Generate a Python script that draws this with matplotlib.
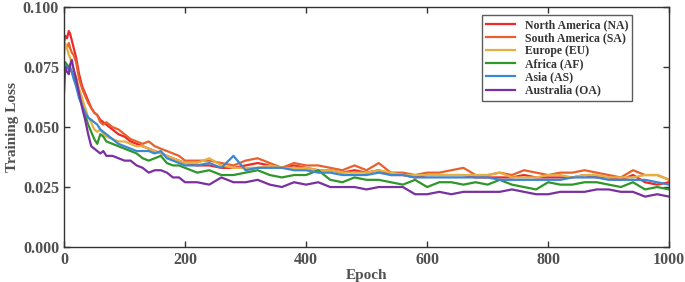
import numpy as np
import matplotlib
matplotlib.use("Agg")
import matplotlib.pyplot as plt

plt.rcParams['font.family'] = ['Liberation Serif', 'DejaVu Serif']
plt.rcParams['font.weight'] = 'bold'

epochs = [0, 2, 5, 8, 10, 13, 16, 20, 25, 30, 35, 40, 45, 50, 55, 60, 65, 70, 80, 90, 100,
          110, 120, 130, 140, 150, 160, 170, 180, 190, 200,
          220, 240, 260, 280, 300, 320, 340, 360, 380, 400, 420, 440, 460, 480, 500,
          520, 540, 560, 580, 600, 620, 640, 660, 680, 700, 720, 740, 760, 780, 800,
          820, 840, 860, 880, 900, 920, 940, 960, 980, 1000]

loss_na = [0.085, 0.088, 0.087, 0.090, 0.089, 0.086, 0.083, 0.079, 0.072, 0.067, 0.064, 0.061, 0.058, 0.056, 0.055, 0.053, 0.052, 0.051, 0.049, 0.047, 0.046,
           0.044, 0.043, 0.042, 0.041, 0.040, 0.039, 0.038, 0.037, 0.036, 0.035,
           0.034, 0.034, 0.033, 0.033, 0.034, 0.035, 0.034, 0.033, 0.034, 0.033, 0.032, 0.032, 0.031, 0.032, 0.031,
           0.032, 0.030, 0.030, 0.029, 0.030, 0.030, 0.030, 0.030, 0.029, 0.029, 0.029, 0.029, 0.030, 0.029, 0.029,
           0.029, 0.029, 0.030, 0.029, 0.029, 0.028, 0.030, 0.027, 0.026, 0.027]
loss_sa = [0.082, 0.084, 0.083, 0.085, 0.083, 0.081, 0.080, 0.077, 0.070, 0.066, 0.063, 0.060, 0.058, 0.056, 0.055, 0.052, 0.051, 0.052, 0.050, 0.049, 0.047,
           0.045, 0.044, 0.043, 0.044, 0.042, 0.041, 0.040, 0.039, 0.038, 0.036,
           0.036, 0.036, 0.035, 0.034, 0.036, 0.037, 0.035, 0.033, 0.035, 0.034, 0.034, 0.033, 0.032, 0.034, 0.032,
           0.035, 0.031, 0.031, 0.030, 0.031, 0.031, 0.032, 0.033, 0.030, 0.030, 0.031, 0.030, 0.032, 0.031, 0.030,
           0.031, 0.031, 0.032, 0.031, 0.030, 0.029, 0.032, 0.030, 0.030, 0.028]
loss_eu = [0.080, 0.085, 0.083, 0.080, 0.079, 0.076, 0.074, 0.071, 0.066, 0.062, 0.058, 0.054, 0.052, 0.049, 0.048, 0.049, 0.047, 0.046, 0.045, 0.044, 0.044,
           0.043, 0.042, 0.042, 0.041, 0.040, 0.039, 0.038, 0.037, 0.036, 0.035,
           0.035, 0.037, 0.034, 0.033, 0.033, 0.033, 0.034, 0.033, 0.033, 0.033, 0.032, 0.032, 0.031, 0.031, 0.031,
           0.032, 0.031, 0.030, 0.030, 0.030, 0.030, 0.030, 0.030, 0.030, 0.030, 0.031, 0.029, 0.029, 0.029, 0.030,
           0.030, 0.029, 0.030, 0.030, 0.029, 0.029, 0.029, 0.030, 0.030, 0.028]
loss_af = [0.076, 0.077, 0.076, 0.075, 0.074, 0.073, 0.071, 0.068, 0.063, 0.059, 0.055, 0.051, 0.048, 0.045, 0.043, 0.047, 0.046, 0.044, 0.043, 0.042, 0.041,
           0.040, 0.039, 0.037, 0.036, 0.037, 0.038, 0.035, 0.034, 0.034, 0.033,
           0.031, 0.032, 0.030, 0.030, 0.031, 0.032, 0.030, 0.029, 0.030, 0.030, 0.032, 0.028, 0.027, 0.029, 0.028,
           0.028, 0.027, 0.026, 0.028, 0.025, 0.027, 0.027, 0.026, 0.027, 0.026, 0.028, 0.026, 0.025, 0.024, 0.027,
           0.026, 0.026, 0.027, 0.027, 0.026, 0.025, 0.027, 0.024, 0.025, 0.024]
loss_as = [0.073, 0.076, 0.075, 0.074, 0.075, 0.073, 0.070, 0.067, 0.062, 0.059, 0.056, 0.054, 0.053, 0.052, 0.051, 0.049, 0.048, 0.047, 0.045, 0.043, 0.042,
           0.041, 0.040, 0.040, 0.040, 0.039, 0.040, 0.037, 0.036, 0.035, 0.034,
           0.034, 0.035, 0.033, 0.038, 0.032, 0.033, 0.033, 0.033, 0.032, 0.032, 0.031, 0.031, 0.030, 0.030, 0.030,
           0.031, 0.030, 0.030, 0.029, 0.029, 0.029, 0.029, 0.029, 0.029, 0.029, 0.028, 0.028, 0.028, 0.028, 0.028,
           0.028, 0.029, 0.029, 0.029, 0.028, 0.028, 0.028, 0.028, 0.027, 0.026]
loss_oa = [0.064, 0.075, 0.073, 0.072, 0.076, 0.078, 0.074, 0.070, 0.064, 0.058, 0.053, 0.047, 0.042, 0.041, 0.040, 0.039, 0.040, 0.038, 0.038, 0.037, 0.036,
           0.036, 0.034, 0.033, 0.031, 0.032, 0.032, 0.031, 0.029, 0.029, 0.027,
           0.027, 0.026, 0.029, 0.027, 0.027, 0.028, 0.026, 0.025, 0.027, 0.026, 0.027, 0.025, 0.025, 0.025, 0.024,
           0.025, 0.025, 0.025, 0.022, 0.022, 0.023, 0.022, 0.023, 0.023, 0.023, 0.023, 0.024, 0.023, 0.022, 0.022,
           0.023, 0.023, 0.023, 0.024, 0.024, 0.023, 0.023, 0.021, 0.022, 0.021]

labels = ['North America (NA)', 'South America (SA)', 'Europe (EU)',
          'Africa (AF)', 'Asia (AS)', 'Australia (OA)']
colors = ['#f0282a', '#e8612c', '#e6b040', '#2f962a', '#3a88d4', '#7a30a0']
series = [loss_na, loss_sa, loss_eu, loss_af, loss_as, loss_oa]

fig = plt.figure(figsize=(6.85, 2.82), dpi=100)
ax = fig.add_axes([0.0934, 0.124, 0.8836, 0.851])

for ys, c, lab in zip(series, colors, labels):
    ax.plot(epochs, ys, color=c, lw=1.6, label=lab)

ax.set_xlim(0, 1000)
ax.set_ylim(0, 0.1)
ax.set_xticks([0, 200, 400, 600, 800, 1000])
ax.set_yticks([0, 0.025, 0.05, 0.075, 0.1])
ax.set_yticklabels(['0.000', '0.025', '0.050', '0.075', '0.100'])
ax.tick_params(direction='in', top=True, right=True, length=4, width=1,
               labelsize=11.5, colors='#333333', labelcolor='#505050')
for lbl in ax.get_xticklabels() + ax.get_yticklabels():
    lbl.set_fontweight('bold')
for s in ax.spines.values():
    s.set_color('#333333')
    s.set_linewidth(1)

ax.set_xlabel('Epoch', fontsize=11, color='#505050', labelpad=1, fontweight='bold')
ax.set_ylabel('Training Loss', fontsize=11, color='#505050', labelpad=3, fontweight='bold')

leg = ax.legend(loc='upper right', bbox_to_anchor=(0.939, 0.968), borderaxespad=0,
                prop={'size': 8.5, 'weight': 'bold'},
                frameon=True, fancybox=False, handlelength=2.5, borderpad=0.35,
                labelspacing=0.1, handletextpad=0.8)
leg.get_frame().set_edgecolor('#333333')
leg.get_frame().set_linewidth(1)
for t in leg.get_texts():
    t.set_color('#333333')

fig.savefig('out.png', dpi=100)
